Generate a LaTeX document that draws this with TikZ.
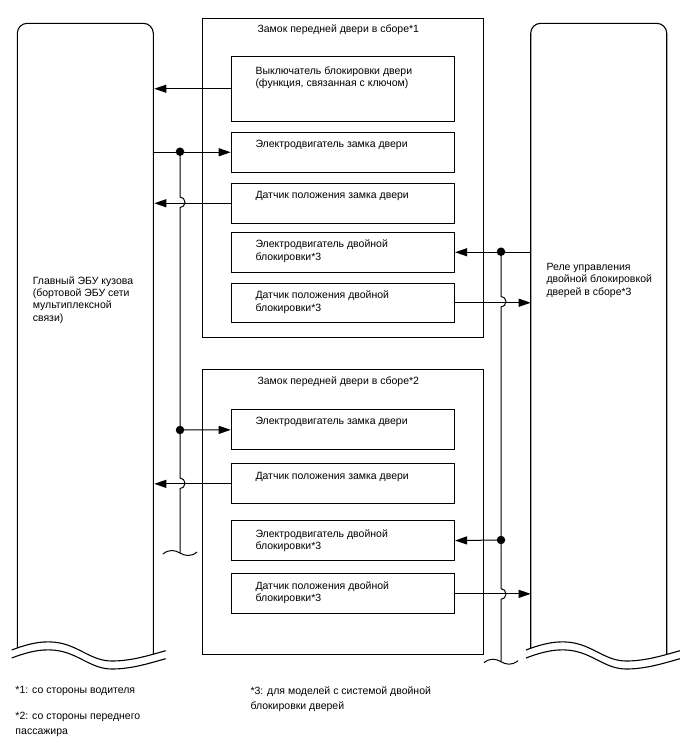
\documentclass[tikz,border=0pt]{standalone}
\usepackage{fontspec}
\setmainfont{Liberation Sans}
\usetikzlibrary{arrows.meta,calc}
\begin{document}
\begin{tikzpicture}[x=1pt,y=-1pt,
  line width=1pt,
  box/.style={draw, line width=1.1pt, rectangle, inner sep=0pt, anchor=north west, minimum width=223.3pt},
  outer/.style={draw, line width=1.1pt, rectangle, inner sep=0pt, anchor=north west, minimum width=280.5pt},
  lbl/.style={anchor=north west, inner sep=0pt, align=left, font=\fontsize{10.5}{12.3}\selectfont},
  ttl/.style={inner sep=0pt, font=\fontsize{10.5}{12.3}\selectfont},
  foot/.style={anchor=north west, inner sep=0pt, align=left, font=\fontsize{10.5}{14.8}\selectfont},
  arr/.style={-{Triangle[length=12pt,width=8pt]}},
  dotc/.style={circle, fill, inner sep=0pt, minimum size=8.5pt},
  ecu/.style={inner sep=0pt, minimum width=136pt, minimum height=625pt, anchor=north west},
]
\useasboundingbox (0,0) rectangle (688,755);

% ---- ECUs (invisible frames + drawn outlines)
\node[ecu] (ecuL) at (17.3,23.3) {};
\node[ecu] (ecuR) at (530.7,23.3) {};
\draw[line width=1.1pt] (17.3,648) -- (17.3,33.3) arc[start angle=180,end angle=270,radius=10]
  -- (143.3,23.3) arc[start angle=270,end angle=360,radius=10] -- (153.3,654);
\draw[line width=1.1pt] (530.7,648) -- (530.7,33.3) arc[start angle=180,end angle=270,radius=10]
  -- (656.7,23.3) arc[start angle=270,end angle=360,radius=10] -- (666.7,654);
\foreach \dx in {0,514.3}{
  \foreach \dy in {0,8}{
    \draw[line width=1.1pt, shift={(\dx,\dy)}] (11.7,650) .. controls (30,643) and (45,640) .. (60,643)
      .. controls (80,647) and (92,661) .. (112,661) .. controls (132,661) and (150,655) .. (165.7,650.7);
  }
}
\node[lbl] (tL) at (32.3,276) {Главный ЭБУ кузова\\(бортовой ЭБУ сети\\мультиплексной\\связи)};
\node[lbl] (tR) at (546,262.7) {Реле управления\\двойной блокировкой\\дверей в сборе*3};

% ---- upper lock assembly
\node[outer, minimum height=319pt] (o1) at (202.3,18.3) {};
\node[ttl] (t1) at (338.3,29.3) {Замок передней двери в сборе*1};
\node[box, minimum height=65pt] (a1) at (230.7,55.7) {};
\node[box, minimum height=40pt] (a2) at (230.7,131.7) {};
\node[box, minimum height=40pt] (a3) at (230.7,182.7) {};
\node[box, minimum height=40pt] (a4) at (230.7,231.7) {};
\node[box, minimum height=39pt] (a5) at (230.7,282.7) {};
\node[lbl] (ta1) at ($(a1.north west)+(24.3,10.3)$) {Выключатель блокировки двери\\(функция, связанная с ключом)};
\node[lbl] (ta2) at ($(a2.north west)+(24.3,8)$) {Электродвигатель замка двери};
\node[lbl] (ta3) at ($(a3.north west)+(24.3,8)$) {Датчик положения замка двери};
\node[lbl] (ta4) at ($(a4.north west)+(24.3,8)$) {Электродвигатель двойной\\блокировки*3};
\node[lbl] (ta5) at ($(a5.north west)+(24.3,8)$) {Датчик положения двойной\\блокировки*3};

% ---- lower lock assembly
\node[outer, minimum height=284.7pt] (o2) at (202.3,369.3) {};
\node[ttl] (t2) at (338.3,381.7) {Замок передней двери в сборе*2};
\node[box, minimum height=40pt] (b1) at (230.7,409.3) {};
\node[box, minimum height=40pt] (b2) at (230.7,463.3) {};
\node[box, minimum height=40pt] (b4) at (230.7,520) {};
\node[box, minimum height=40pt] (b5) at (230.7,573.3) {};
\node[lbl] (tb1) at ($(b1.north west)+(24.3,7)$) {Электродвигатель замка двери};
\node[lbl] (tb2) at ($(b2.north west)+(24.3,8)$) {Датчик положения замка двери};
\node[lbl] (tb4) at ($(b4.north west)+(24.3,9)$) {Электродвигатель двойной\\блокировки*3};
\node[lbl] (tb5) at ($(b5.north west)+(24.3,8)$) {Датчик положения двойной\\блокировки*3};

% ---- bus coordinates
\coordinate (jL1) at (180,151.7);
\coordinate (jL2) at (180,430);
\coordinate (jLend) at (180,553);
\coordinate (jR1) at (501,251.7);
\coordinate (jR2) at (501,540);
\coordinate (jRend) at (501,661.7);

% ---- connectors to/from left ECU
\draw[arr] (a1.west) -- (a1.west -| ecuL.east);
\draw[arr] (a2.west -| ecuL.east) -- (a2.west);
\draw[arr] (a3.west) -- (a3.west -| ecuL.east);
\draw[arr] (jL2) -- (b1.west);
\draw[arr] (b2.west) -- (b2.west -| ecuL.east);

% ---- connectors to/from right relay
\draw[arr] (a4.east -| ecuR.west) -- (a4.east);
\draw[arr] (a5.east) -- (a5.east -| ecuR.west);
\draw[arr] (jR2) -- (b4.east);
\draw[arr] (b5.east) -- (b5.east -| ecuR.west);

% ---- left bus with hops
\draw (jL1) -- (180,197) arc[start angle=-90,end angle=90,x radius=5,y radius=5.3]
  -- (180,478) arc[start angle=-90,end angle=90,x radius=5,y radius=5.3] -- (jLend);
\draw (163,554) .. controls (169,549) and (175,550) .. (180,553) .. controls (185,556) and (191,557) .. (197,552);
% ---- right bus with hops
\draw (jR1) -- (501,296.4) arc[start angle=-90,end angle=90,x radius=5,y radius=5.3]
  -- (501,588.7) arc[start angle=-90,end angle=90,x radius=5,y radius=5.3] -- (jRend);
\draw (484,662.7) .. controls (490,657.7) and (496,658.7) .. (501,661.7) .. controls (506,664.7) and (512,665.7) .. (518,660.7);

\node[dotc] (dL1) at (jL1) {};
\node[dotc] (dL2) at (jL2) {};
\node[dotc] (dR1) at (jR1) {};
\node[dotc] (dR2) at (jR2) {};

% ---- footnotes
\node[foot] (f1) at (15,686) {*1: со стороны водителя};
\node[foot] (f2) at (15,712) {*2: со стороны переднего\\пассажира};
\node[foot] (f3) at (250,686) {*3: для моделей с системой двойной\\блокировки дверей};
\end{tikzpicture}
\end{document}
